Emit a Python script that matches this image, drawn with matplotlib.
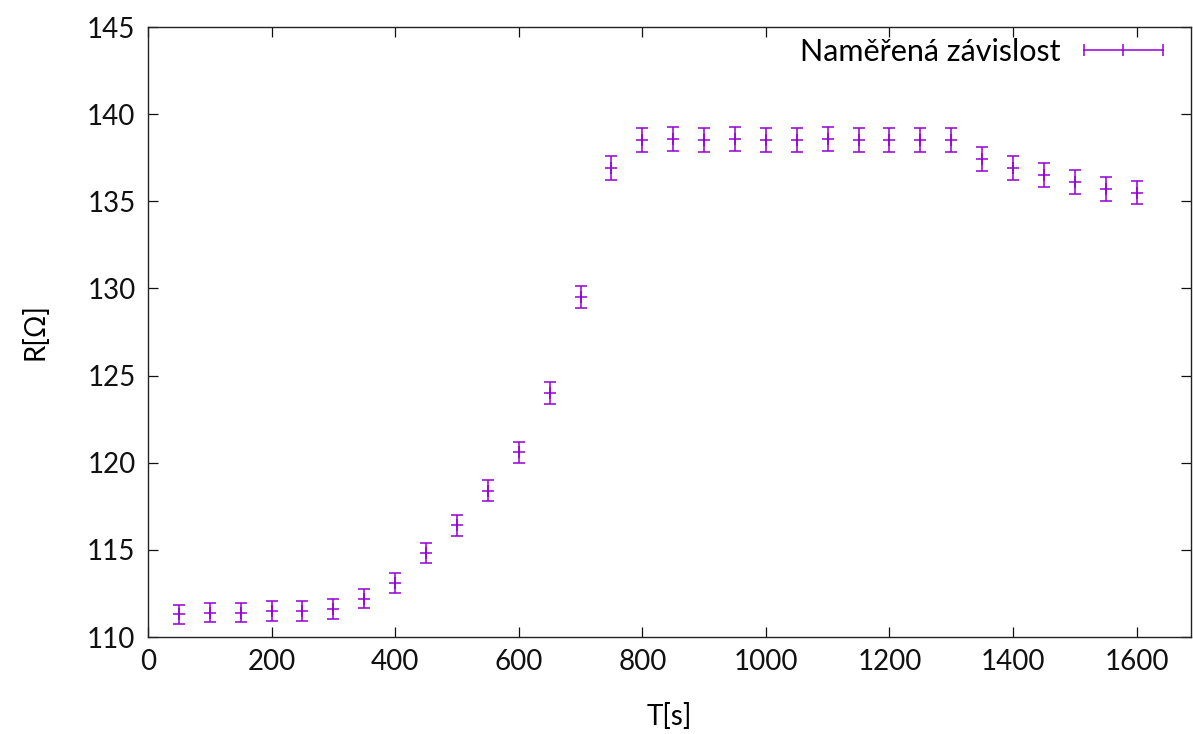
import matplotlib
matplotlib.use('Agg')
import matplotlib.pyplot as plt
from matplotlib.lines import Line2D

plt.rcParams['font.family'] = ['Lato', 'DejaVu Sans']

# measured data
t = [50, 100, 150, 200, 250, 300, 350, 400, 450, 500, 550, 600, 650, 700, 750, 800,
     850, 900, 950, 1000, 1050, 1100, 1150, 1200, 1250, 1300, 1350, 1400, 1450, 1500,
     1550, 1600]
r = [111.3, 111.4, 111.4, 111.5, 111.5, 111.6, 112.2, 113.1, 114.8, 116.4, 118.4, 120.6,
     124.0, 129.5, 136.9, 138.5, 138.6, 138.5, 138.6, 138.5, 138.5, 138.6, 138.5, 138.5,
     138.5, 138.5, 137.4, 136.9, 136.5, 136.1, 135.7, 135.5]
r_err = [0.56, 0.56, 0.56, 0.56, 0.56, 0.56, 0.56, 0.57, 0.57, 0.58, 0.59, 0.60,
         0.62, 0.65, 0.68, 0.69, 0.69, 0.69, 0.69, 0.69, 0.69, 0.69, 0.69, 0.69,
         0.69, 0.69, 0.69, 0.68, 0.68, 0.68, 0.68, 0.68]

col = '#9400D3'

fig = plt.figure(figsize=(11.93, 7.34), dpi=100)
ax = fig.add_axes([148/1193, 1-637/734, (1191-148)/1193, (637-27)/734])

ax.errorbar(t, r, yerr=r_err, fmt='+', color=col, ecolor=col, elinewidth=1.1,
            capsize=4.5, capthick=1.1, markersize=9, markeredgewidth=1.1)

ax.set_xlim(0, 1688)
ax.set_ylim(110, 145)
ax.set_xticks(range(0, 1601, 200))
ax.set_yticks(range(110, 146, 5))
ax.tick_params(direction='in', length=7, width=0.9, top=True, right=True,
               labelsize=20, pad=9, colors='#111111')
for s in ax.spines.values():
    s.set_linewidth(1.0)
    s.set_color('#222222')

ax.set_xlabel('T[s]', fontsize=20, labelpad=20)
ax.set_ylabel('R[Ω]', fontsize=20, labelpad=28)

proxy = Line2D([0], [0], color=col, lw=1.1, marker='|', markersize=9,
               markeredgewidth=1.1)
ax.legend([proxy], ['Naměřená závislost'], loc='upper right', frameon=False,
          markerfirst=False, numpoints=3, handlelength=3.2, fontsize=22,
          borderpad=0, borderaxespad=0, handletextpad=0.46,
          bbox_to_anchor=(0.982, 0.982))

fig.savefig('out.png', dpi=100)
